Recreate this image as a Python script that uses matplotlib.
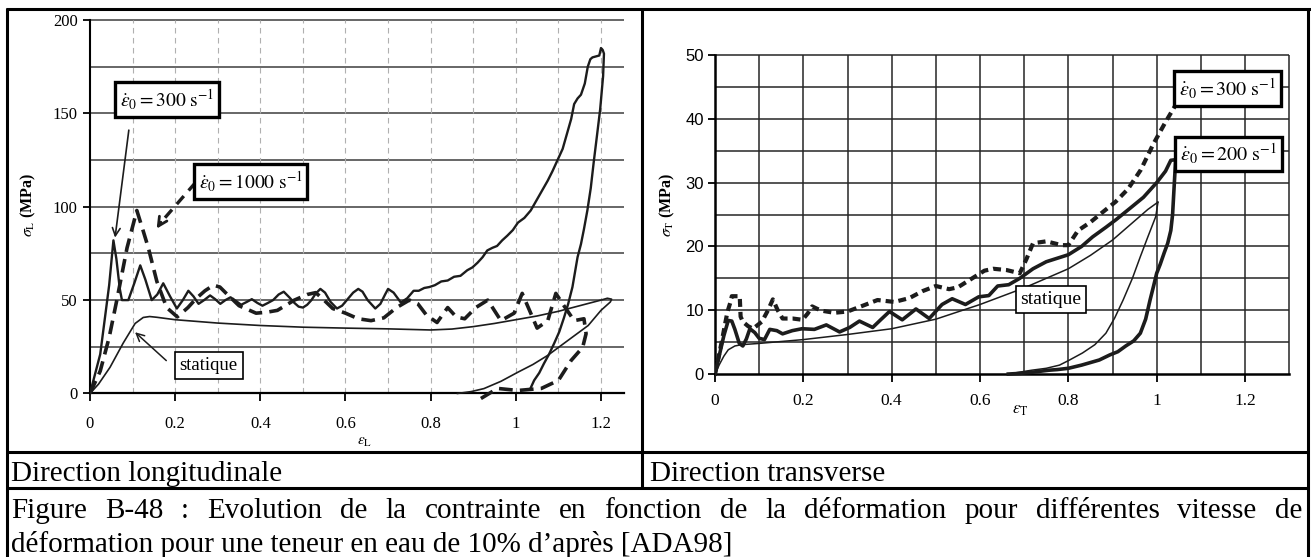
import matplotlib
matplotlib.use("Agg")
import matplotlib.pyplot as plt

plt.rcParams['font.family'] = ['Liberation Serif', 'DejaVu Serif']
plt.rcParams['mathtext.fontset'] = 'stix'

# ---------------- data: longitudinal direction ----------------
eps_static_L = [0, 0.02, 0.047, 0.078, 0.106, 0.125, 0.14, 0.157, 0.2, 0.3, 0.4, 0.5, 0.6, 0.7,
                0.8, 0.85, 0.9, 0.95, 1.0, 1.05, 1.1, 1.15, 1.2, 1.215, 1.225, 1.222, 1.2, 1.17,
                1.12, 1.075, 1.04, 1.005, 0.965, 0.925, 0.895, 0.863]
sig_static_L = [0, 5, 14, 27, 37.5, 40.7, 41.2, 40.8, 39.5, 37.7, 36.4, 35.5, 35, 34.6,
                34, 34.5, 35.8, 37.5, 39.5, 41.5, 44, 47, 50, 51, 50.5, 49, 44.5, 36.4,
                28, 20.4, 15.5, 11.4, 6.5, 2.6, 1, 0]

eps_300_L = [0, 0.024, 0.045, 0.055, 0.062, 0.070, 0.075, 0.090, 0.104, 0.118, 0.130, 0.145,
             0.158, 0.172, 0.188, 0.204, 0.218, 0.231, 0.243, 0.255, 0.268, 0.282, 0.294,
             0.306, 0.318, 0.33, 0.343, 0.355, 0.368, 0.38, 0.393, 0.405, 0.418, 0.43, 0.443,
             0.455, 0.468, 0.48, 0.49, 0.5, 0.51, 0.52, 0.53, 0.541, 0.552, 0.565, 0.58, 0.592,
             0.605, 0.618, 0.63, 0.64, 0.652, 0.67, 0.682, 0.693, 0.70, 0.713, 0.73, 0.745,
             0.76, 0.772, 0.785, 0.797, 0.81, 0.825, 0.84, 0.855, 0.87, 0.886, 0.898, 0.91,
             0.922, 0.933, 0.945, 0.956, 0.968, 0.98, 0.993, 1.005, 1.02, 1.035, 1.055, 1.075,
             1.086, 1.098, 1.11, 1.12, 1.13, 1.137, 1.145, 1.153, 1.162, 1.169, 1.175, 1.18,
             1.188, 1.196, 1.2, 1.204, 1.207, 1.205, 1.198, 1.19, 1.183, 1.176, 1.168, 1.16,
             1.153, 1.145, 1.139, 1.133, 1.123, 1.113, 1.102, 1.09, 1.078, 1.066, 1.055,
             1.043, 1.035]
sig_300_L = [0, 21, 58, 82, 72, 56, 50, 50, 59, 68.6, 61, 50,
             53, 59, 52, 45.5, 50, 55, 52, 48, 50, 52.5, 50.5,
             48, 50, 51.5, 49.5, 47.5, 49, 50.5, 48.5, 47, 48.5, 50, 53,
             54.5, 51.5, 48.5, 46.5, 46, 47.5, 50, 53.5, 56, 54, 49, 45.5, 47,
             50.5, 54, 56, 54.5, 50, 45.5, 48, 53, 56, 54, 48.7, 51,
             55, 55, 56.5, 57, 58, 60, 60.5, 62.5, 63, 66, 67.5, 70,
             73, 76.6, 78, 79, 82, 84.5, 87.5, 91.5, 94, 98, 106, 114,
             119, 125, 131, 139, 147, 155, 158, 160, 166, 175, 179, 180,
             180.5, 181, 185, 184, 182, 170, 152, 137, 124, 110, 98, 88,
             80, 73, 65, 57, 48, 40.5, 33, 26.8, 21, 16, 11,
             7, 3]

eps_1000_L = [0, 0.024, 0.045, 0.063, 0.087, 0.11, 0.125, 0.137, 0.157, 0.18, 0.205, 0.23,
              0.25, 0.27, 0.29, 0.305, 0.32, 0.35, 0.39, 0.415, 0.44, 0.48, 0.51, 0.53, 0.545,
              0.57, 0.6, 0.63, 0.66, 0.69, 0.72, 0.75, 0.77, 0.79, 0.815, 0.84, 0.86, 0.88,
              0.906, 0.934, 0.965, 0.996, 1.015, 1.035, 1.05, 1.075, 1.094, 1.113, 1.137,
              1.16, 1.165, 1.157, 1.13, 1.1, 1.06, 1.005, 0.957, 0.918]
sig_1000_L = [0, 12, 30, 50, 78, 98, 87, 78, 60, 46, 41, 46,
              51, 55, 58, 57, 53.6, 47, 43, 43.5, 44.5, 50, 53, 54, 51,
              45.5, 43, 40, 39, 40.5, 46, 50, 48, 42, 38, 46, 41, 40,
              46, 50, 39, 43, 53.6, 43, 35, 39, 53.6, 47, 39,
              40, 32, 24.7, 17.7, 7, 2.7, 1.6, 2.7, -2.7]

xticks_L = [0, 0.2, 0.4, 0.6, 0.8, 1.0, 1.2]
xticklabels_L = ['0', '0.2', '0.4', '0.6', '0.8', '1', '1.2']
yticks_L = [0, 50, 100, 150, 200]

# ---------------- data: transverse direction ----------------
eps_static_T = [0, 0.01, 0.02, 0.03, 0.045, 0.06, 0.1, 0.2, 0.3, 0.4, 0.5, 0.6, 0.7, 0.8,
                0.85, 0.9, 0.95, 0.98, 1.0, 1.003, 0.998, 0.98, 0.963, 0.945, 0.924, 0.905,
                0.885, 0.86, 0.832, 0.8, 0.78, 0.75, 0.717, 0.69, 0.664]
sig_static_T = [0, 1.5, 2.8, 3.8, 4.4, 4.6, 4.8, 5.4, 6.2, 7.1, 8.6, 10.9, 13.5, 16.5,
                18.6, 21, 24, 25.8, 26.8, 27, 24.7, 21.5, 18.4, 15, 11.6, 8.8,
                6.4, 4.6, 3.3, 2.1, 1.4, 0.9, 0.6, 0.3, 0]

eps_200_T = [0, 0.01, 0.02, 0.03, 0.038, 0.045, 0.055, 0.063, 0.071, 0.079, 0.09, 0.1, 0.112,
             0.124, 0.14, 0.153, 0.175, 0.197, 0.225, 0.252, 0.282, 0.305, 0.327, 0.357,
             0.375, 0.395, 0.424, 0.455, 0.485, 0.514, 0.537, 0.567, 0.597, 0.62, 0.64,
             0.665, 0.69, 0.72, 0.75, 0.8, 0.83, 0.855, 0.885, 0.908, 0.94, 0.97, 1.0, 1.02,
             1.032, 1.043, 1.04, 1.036, 1.032, 1.025, 1.017, 1.008, 1.0, 0.993, 0.985, 0.975,
             0.963, 0.948, 0.93, 0.912, 0.894, 0.87, 0.85, 0.83, 0.8, 0.775, 0.756, 0.72,
             0.69, 0.664]
sig_200_T = [0, 3, 6, 8.4, 8.3, 7, 4.8, 4.4, 5.5, 7.1, 6.5, 5.6, 5.4,
             7, 6.8, 6.3, 6.8, 7.1, 7, 7.7, 6.6, 7.3, 8.3, 7.3,
             8.5, 9.8, 8.5, 10.2, 8.7, 10.9, 11.8, 10.9, 12.1, 12.3, 13.8,
             14, 15, 16.5, 17.6, 18.7, 20, 21.5, 23, 24.2, 26, 27.7, 30, 31.8,
             33.5, 33.6, 30, 25, 22.5, 20.5, 19, 17.2, 15.8, 13.8, 11.6, 8.6,
             6.4, 5.2, 4.4, 3.5, 3, 2.2, 1.8, 1.4, 0.9, 0.7, 0.6, 0.3,
             0.1, 0]

eps_300_T = [0, 0.015, 0.028, 0.036, 0.038, 0.047, 0.056, 0.058, 0.063, 0.075, 0.086, 0.106,
             0.12, 0.131, 0.142, 0.153, 0.176, 0.198, 0.21, 0.22, 0.232, 0.244, 0.27, 0.3,
             0.338, 0.368, 0.406, 0.44, 0.47, 0.5, 0.53, 0.55, 0.58, 0.61, 0.63, 0.66, 0.69,
             0.705, 0.72, 0.75, 0.785, 0.8, 0.822, 0.85, 0.88, 0.907, 0.935, 0.964, 0.992,
             1.02, 1.05, 1.063]
sig_300_T = [0, 5, 9.7, 11.5, 12.2, 12.2, 12.2, 9, 8.2, 7.5, 7.1, 8.2,
             10, 11.7, 10, 8.7, 8.7, 8.5, 9.5, 10.6, 10.2, 9.9, 9.6, 9.8,
             10.8, 11.6, 11.3, 11.9, 13, 13.8, 13.3, 13.6, 14.9, 16.2, 16.5, 16.3, 15.8,
             18, 20.5, 20.8, 20.2, 20.2, 22.5, 23.8, 25.5, 27, 29, 32, 36,
             39.5, 43, 44.2]

xticks_T = [0, 0.2, 0.4, 0.6, 0.8, 1.0, 1.2]
xticklabels_T = ['0', '0.2', '0.4', '0.6', '0.8', '1', '1.2']
yticks_T = [0, 10, 20, 30, 40, 50]

# ---------------- text ----------------
label_L = 'Direction longitudinale'
label_T = 'Direction transverse'
caption_1 = ('Figure B-48 : Evolution de la contrainte en fonction de la déformation '
             'pour différentes vitesse de')
caption_2 = 'déformation pour une teneur en eau de 10% d’après [ADA98]'

INK = '#1c1c1c'
W, H = 1311, 557
fig = plt.figure(figsize=(W / 100, H / 100), dpi=100)


def rect(x0, y0, x1, y1):
    return [x0 / W, 1 - y1 / H, (x1 - x0) / W, (y1 - y0) / H]


# page layer in pixel units: table rules and captions
page = fig.add_axes([0, 0, 1, 1])
page.set_xlim(0, W)
page.set_ylim(H, 0)
page.axis('off')

rule = dict(color='black', lw=2.2, solid_capstyle='butt')
page.plot([6, W], [9, 9], **rule)
page.plot([7, 7], [8, H], **rule)
page.plot([1308, 1308], [8, H], **rule)
page.plot([642, 642], [9, 488], **rule)
page.plot([6, 1309], [452, 452], **rule)
page.plot([6, 1309], [488, 488], **rule)

text_fs = 21
page.text(11, 481, label_L, fontsize=text_fs, va='baseline', ha='left')
page.text(650, 481, label_T, fontsize=text_fs, va='baseline', ha='left')

# justified first caption line
words = caption_1.split(' ')
word_txt = [page.text(0, 518, w, fontsize=text_fs, va='baseline', ha='left') for w in words]
renderer = fig.canvas.get_renderer()
widths = [t.get_window_extent(renderer).width for t in word_txt]
x_left, x_right = 11, 1302
gap = (x_right - x_left - sum(widths)) / (len(words) - 1)
xpos = x_left
for t, w in zip(word_txt, widths):
    t.set_x(xpos)
    xpos += w + gap
page.text(11, 552, caption_2, fontsize=text_fs, va='baseline', ha='left')

# ---------------- left chart ----------------
axL = fig.add_axes(rect(90, 16.3, 624.4, 408.4))
axL.set_facecolor('none')
axL.set_xlim(0, 1.255)
axL.set_ylim(-8, 202)
for s in ('top', 'right'):
    axL.spines[s].set_visible(False)
axL.spines['left'].set_bounds(0, 200)
axL.spines['left'].set_linewidth(1.5)
axL.spines['bottom'].set_position(('data', 0))
axL.spines['bottom'].set_bounds(0, 1.255)
axL.spines['bottom'].set_linewidth(1.6)
axL.hlines([25, 50, 75, 100, 125, 150, 175, 200], 0, 1.255, color='#5a5a5a', lw=1.3, zorder=1)
axL.vlines([0.1, 0.2, 0.3, 0.4, 0.5, 0.6, 0.7, 0.8, 0.9, 1.0, 1.1, 1.2], 0, 200,
           color='#b0b0b0', lw=0.8, linestyles=(0, (5, 4)), zorder=1)
axL.set_xticks(xticks_L)
axL.set_xticklabels(xticklabels_L)
axL.set_yticks(yticks_L)
axL.tick_params(axis='x', direction='out', length=6, width=1.3, pad=10, labelsize=12)
axL.tick_params(axis='y', direction='out', length=5, width=1.3, pad=4, labelsize=12)

axL.plot(eps_static_L, sig_static_L, color=INK, lw=1.2, zorder=3)
axL.plot(eps_300_L, sig_300_L, color=INK, lw=1.7, zorder=3)
axL.plot(eps_1000_L, sig_1000_L, color=INK, lw=2.6, dashes=(3.8, 2.0), zorder=3)

box_thick = dict(boxstyle='square,pad=0.25', fc='white', ec='black', lw=2.4)
box_thin = dict(boxstyle='square,pad=0.25', fc='white', ec='black', lw=1.2)
axL.text(0.18, 157.5, r'$\dot{\varepsilon}_0 = 300\ \mathrm{s}^{-1}$', fontsize=14,
         ha='center', va='center', bbox=box_thick, zorder=5)
axL.annotate('', xy=(0.058, 82), xytext=(0.092, 142.5),
             arrowprops=dict(arrowstyle='->', color=INK, lw=1.2, mutation_scale=14), zorder=4)
axL.text(0.377, 113.5, r'$\dot{\varepsilon}_0 = 1000\ \mathrm{s}^{-1}$', fontsize=14,
         ha='center', va='center', bbox=box_thick, zorder=5)
axL.plot([0.248, 0.168], [113, 92], color=INK, lw=2.4, dashes=(3.2, 2.2), zorder=4)
axL.annotate('', xy=(0.153, 87), xytext=(0.17, 93),
             arrowprops=dict(arrowstyle='->', color=INK, lw=2.0, mutation_scale=16), zorder=4)
axL.text(0.279, 15, 'statique', fontsize=13.5, ha='center', va='center', bbox=box_thin, zorder=5)
axL.annotate('', xy=(0.101, 33.8), xytext=(0.184, 16.6),
             arrowprops=dict(arrowstyle='->', color=INK, lw=1.1, mutation_scale=14), zorder=4)

page.text(365, 442, r'$\varepsilon_\mathrm{L}$', fontsize=11, ha='center', va='center')
page.text(28, 205, r'$\sigma_\mathrm{L}$ (MPa)', fontsize=11.5, ha='center', va='center',
          rotation=90, fontweight='bold')

# ---------------- right chart ----------------
axR = fig.add_axes(rect(715, 51.2, 1291.4, 386.8))
axR.set_facecolor('none')
axR.set_xlim(0, 1.305)
axR.set_ylim(-2, 50.6)
for s in ('top', 'right'):
    axR.spines[s].set_visible(False)
axR.spines['left'].set_bounds(0, 50)
axR.spines['left'].set_linewidth(1.8)
axR.spines['bottom'].set_position(('data', 0))
axR.spines['bottom'].set_bounds(0, 1.3)
axR.spines['bottom'].set_linewidth(1.8)
axR.hlines([5, 10, 15, 20, 25, 30, 35, 40, 45, 50], 0, 1.3, color='#262626', lw=1.1, zorder=1)
axR.vlines([0.1, 0.2, 0.3, 0.4, 0.5, 0.6, 0.7, 0.8, 0.9, 1.0, 1.1, 1.2, 1.3], 0, 50,
           color='#262626', lw=1.1, zorder=1)
axR.set_xticks(xticks_T)
axR.set_xticklabels(xticklabels_T)
axR.set_yticks(yticks_T)
axR.tick_params(axis='x', direction='out', length=6, width=1.3, pad=8, labelsize=12.5)
axR.tick_params(axis='y', direction='out', length=5, width=1.3, pad=3, labelsize=12)
for lab in axR.get_yticklabels():
    lab.set_family('Liberation Sans')
    lab.set_fontsize(12)

axR.plot(eps_static_T, sig_static_T, color=INK, lw=1.1, zorder=3)
axR.plot(eps_200_T, sig_200_T, color=INK, lw=2.6, zorder=3)
axR.plot(eps_300_T, sig_300_T, color=INK, lw=3.0, dashes=(1.9, 1.2), zorder=3)

axR.text(1.16, 44.8, r'$\dot{\varepsilon}_0 = 300\ \mathrm{s}^{-1}$', fontsize=14.5,
         ha='center', va='center', bbox=box_thick, zorder=5)
axR.text(1.162, 34.5, r'$\dot{\varepsilon}_0 = 200\ \mathrm{s}^{-1}$', fontsize=14.5,
         ha='center', va='center', bbox=box_thick, zorder=5)
axR.text(0.761, 11.7, 'statique', fontsize=14, ha='center', va='center', bbox=box_thin, zorder=5)

page.text(1020, 410, r'$\varepsilon_\mathrm{T}$', fontsize=12, ha='center', va='center')
page.text(667, 205, r'$\sigma_\mathrm{T}$ (MPa)', fontsize=11.5, ha='center', va='center',
          rotation=90, fontweight='bold')

fig.savefig('out.png', dpi=100)
